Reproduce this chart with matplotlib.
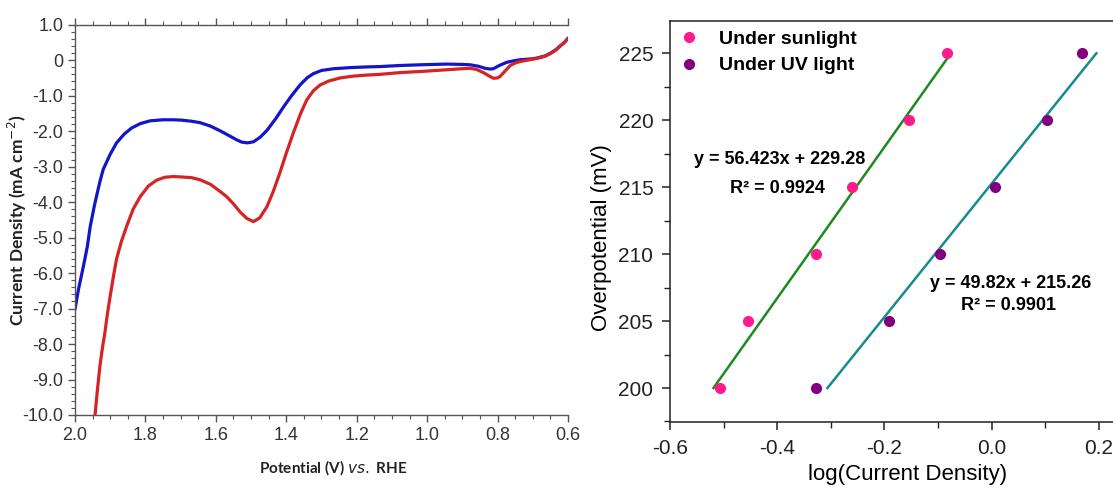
import matplotlib
matplotlib.use('Agg')
import matplotlib.pyplot as plt
from matplotlib.ticker import MultipleLocator

plt.rcParams['axes.unicode_minus'] = False

# LSV curves: potential (V vs RHE) and current density (mA cm-2)
blue_v = [2.000, 1.990, 1.976, 1.965, 1.957, 1.945, 1.930, 1.920, 1.900, 1.882,
          1.860, 1.839, 1.815, 1.787, 1.750, 1.720, 1.697, 1.670, 1.645, 1.615,
          1.588, 1.560, 1.540, 1.526, 1.510, 1.493, 1.474, 1.455, 1.430, 1.408,
          1.385, 1.361, 1.340, 1.323, 1.300, 1.265, 1.220, 1.171, 1.134, 1.077,
          1.020, 0.944, 0.900, 0.878, 0.855, 0.835, 0.820, 0.812, 0.795, 0.774,
          0.750, 0.736, 0.700, 0.688, 0.665, 0.651, 0.635, 0.622, 0.610, 0.600]
blue_j = [-7.02, -6.45, -5.80, -5.25, -4.70, -4.10, -3.45, -3.08, -2.65, -2.33,
          -2.08, -1.91, -1.79, -1.71, -1.68, -1.68, -1.69, -1.72, -1.76, -1.86,
          -1.99, -2.14, -2.25, -2.31, -2.33, -2.30, -2.17, -1.98, -1.65, -1.32,
          -1.00, -0.70, -0.49, -0.38, -0.29, -0.24, -0.21, -0.19, -0.18, -0.15,
          -0.13, -0.11, -0.12, -0.13, -0.17, -0.23, -0.25, -0.24, -0.15, -0.06,
          -0.01, 0.01, 0.04, 0.06, 0.12, 0.19, 0.29, 0.40, 0.50, 0.62]

red_v = [1.945, 1.936, 1.929, 1.922, 1.915, 1.908, 1.900, 1.891, 1.882, 1.868,
         1.853, 1.835, 1.815, 1.792, 1.768, 1.745, 1.721, 1.700, 1.670, 1.645,
         1.615, 1.588, 1.569, 1.550, 1.531, 1.512, 1.493, 1.475, 1.455, 1.437,
         1.418, 1.400, 1.380, 1.360, 1.342, 1.323, 1.304, 1.280, 1.247, 1.210,
         1.171, 1.134, 1.077, 1.020, 0.944, 0.900, 0.878, 0.860, 0.840, 0.825,
         0.812, 0.800, 0.793, 0.778, 0.764, 0.750, 0.736, 0.710, 0.688, 0.665,
         0.651, 0.635, 0.622, 0.610, 0.600]
red_j = [-10.2, -9.25, -8.60, -8.10, -7.67, -7.15, -6.64, -6.10, -5.60, -5.10,
         -4.67, -4.20, -3.85, -3.55, -3.38, -3.30, -3.28, -3.29, -3.31, -3.37,
         -3.50, -3.70, -3.85, -4.05, -4.28, -4.46, -4.55, -4.44, -4.13, -3.70,
         -3.17, -2.62, -2.05, -1.52, -1.12, -0.86, -0.70, -0.59, -0.50, -0.45,
         -0.42, -0.40, -0.35, -0.32, -0.27, -0.24, -0.23, -0.26, -0.35, -0.44,
         -0.51, -0.50, -0.46, -0.30, -0.15, -0.08, -0.04, 0.01, 0.05, 0.11,
         0.18, 0.28, 0.40, 0.50, 0.62]

lsv_yticks = [1.0, 0, -1.0, -2.0, -3.0, -4.0, -5.0, -6.0, -7.0, -8.0, -9.0, -10.0]
lsv_ylabels = ['1.0', '0', '-1.0', '-2.0', '-3.0', '-4.0', '-5.0', '-6.0',
               '-7.0', '-8.0', '-9.0', '-10.0']
lsv_xticks = [2.0, 1.8, 1.6, 1.4, 1.2, 1.0, 0.8, 0.6]

# Tafel data: log(current density) vs overpotential (mV)
sun_log = [-0.507, -0.454, -0.328, -0.260, -0.155, -0.084]
sun_eta = [200, 205, 210, 215, 220, 225]
uv_log = [-0.328, -0.191, -0.096, 0.007, 0.103, 0.168]
uv_eta = [200, 205, 210, 215, 220, 225]
sun_slope, sun_icpt = 56.423, 229.28
uv_slope, uv_icpt = 49.82, 215.26

fig = plt.figure(figsize=(11.13, 4.88), dpi=100)

# ---- left panel: LSV ----
ax1 = fig.add_axes([0.0674, 0.1496, 0.4429, 0.7998])
ax1.plot(blue_v, blue_j, c='#1414c8', linewidth=2.3, solid_capstyle='round')
ax1.plot(red_v, red_j, c='#d42424', linewidth=2.3, solid_capstyle='round')
ax1.set_xlim(2.0, 0.6)
ax1.set_ylim(-10.0, 1.0)
ax1.set_xticks(lsv_xticks)
ax1.set_xticklabels(['%.1f' % v for v in lsv_xticks])
ax1.set_yticks(lsv_yticks)
ax1.set_yticklabels(lsv_ylabels)
ax1.xaxis.set_minor_locator(MultipleLocator(0.05))
ax1.yaxis.set_minor_locator(MultipleLocator(0.2))
ax1.spines['right'].set_visible(False)
for s in ['left', 'top', 'bottom']:
    ax1.spines[s].set_color('#555555')
    ax1.spines[s].set_linewidth(1.0)
ax1.tick_params(which='both', direction='out', top=True, right=False,
                colors='#555555', labelcolor='#333333')
ax1.tick_params(which='major', length=5, width=1.0)
ax1.tick_params(which='minor', length=3, width=0.8)
for lab in ax1.get_xticklabels() + ax1.get_yticklabels():
    lab.set_family('Liberation Sans')
    lab.set_fontsize(13)
ax1.set_ylabel('Current Density (mA cm$^{-2}$)', family='Lato', fontweight='bold',
               fontsize=12.5, color='#222222')
ax1.yaxis.set_label_coords(-0.093, 0.5)
ax1.set_xlabel('Potential (V) $\\it{vs.}$ RHE', family='Lato', fontweight='bold',
               fontsize=11, color='#222222')
ax1.xaxis.set_label_coords(0.523, -0.11)

# ---- right panel: Tafel ----
ax2 = fig.add_axes([0.602, 0.1352, 0.398, 0.8224])
fx = [(200 - sun_icpt) / sun_slope, (225 - sun_icpt) / sun_slope]
ax2.plot(fx, [sun_slope * v + sun_icpt for v in fx], c='#1f8a1f', linewidth=1.8)
ux = [(200 - uv_icpt) / uv_slope, (225 - uv_icpt) / uv_slope]
ax2.plot(ux, [uv_slope * v + uv_icpt for v in ux], c='#178c8c', linewidth=1.8)
ax2.plot(sun_log, sun_eta, 'o', c='#ff1a8c', markersize=7, label='Under sunlight')
ax2.plot(uv_log, uv_eta, 'o', c='#800080', markersize=7, label='Under UV light')
ax2.set_xlim(-0.6, 0.2265)
ax2.set_ylim(197.46, 227.43)
ax2.set_xticks([-0.6, -0.4, -0.2, 0.0, 0.2])
ax2.set_xticklabels(['-0.6', '-0.4', '-0.2', '0.0', '0.2'])
ax2.set_yticks([200, 205, 210, 215, 220, 225])
ax2.xaxis.set_minor_locator(MultipleLocator(0.1))
ax2.yaxis.set_minor_locator(MultipleLocator(2.5))
ax2.spines['right'].set_visible(False)
for s in ['left', 'top', 'bottom']:
    ax2.spines[s].set_color('#222222')
    ax2.spines[s].set_linewidth(1.1)
ax2.tick_params(which='both', direction='out', top=False, right=False,
                colors='#222222', labelsize=15, pad=6)
ax2.tick_params(which='major', length=6, width=1.1)
ax2.tick_params(which='minor', length=4, width=1.0)
for lab in ax2.get_xticklabels() + ax2.get_yticklabels():
    lab.set_family('Liberation Sans')
ax2.set_ylabel('Overpotential (mV)', family='Liberation Sans', fontsize=16)
ax2.yaxis.set_label_coords(-0.13, 0.459)
ax2.set_xlabel('log(Current Density)', family='Liberation Sans', fontsize=16)
ax2.xaxis.set_label_coords(0.537, -0.105)
ax2.legend(loc='upper left', bbox_to_anchor=(0.0, 1.0), frameon=False,
           handlelength=1.0, handletextpad=1.0, labelspacing=0.45,
           borderaxespad=0.1,
           prop={'family': 'Liberation Sans', 'weight': 'bold', 'size': 14})
ax2.text(-0.395, 217.03, 'y = 56.423x + 229.28', ha='center', va='center',
         family='Liberation Sans', fontweight='bold', fontsize=13)
ax2.text(-0.40, 214.93, 'R\u00b2 = 0.9924', ha='center', va='center',
         family='Liberation Sans', fontweight='bold', fontsize=13)
ax2.text(0.036, 207.84, 'y = 49.82x + 215.26', ha='center', va='center',
         family='Liberation Sans', fontweight='bold', fontsize=13)
ax2.text(0.032, 206.19, 'R\u00b2 = 0.9901', ha='center', va='center',
         family='Liberation Sans', fontweight='bold', fontsize=13)

fig.savefig('out.png', dpi=100)
